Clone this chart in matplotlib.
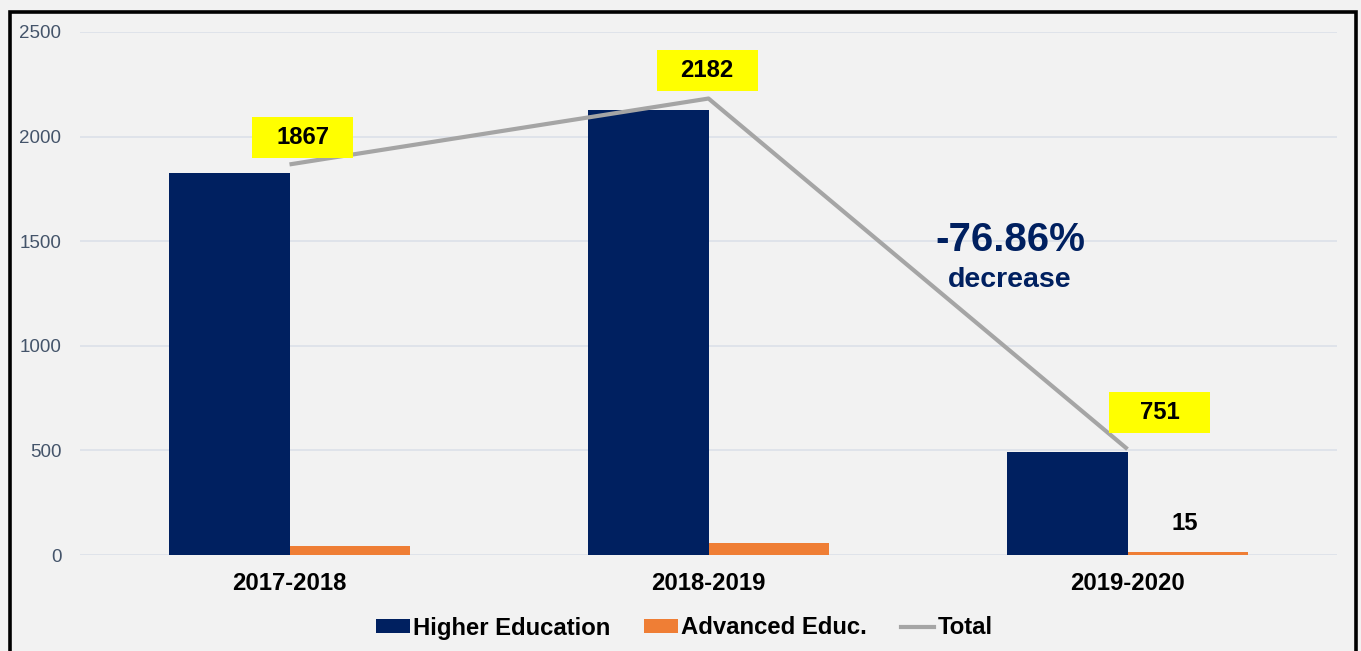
import matplotlib
matplotlib.use("Agg")
import matplotlib.pyplot as plt
from matplotlib.patches import Rectangle, Patch
from matplotlib.lines import Line2D
from matplotlib.transforms import ScaledTranslation

# ---- data ----
categories = ["2017-2018", "2018-2019", "2019-2020"]
higher_education = [1824, 2125, 491]
advanced_educ = [43, 57, 15]
total = [1867, 2182, 506]
total_labels = ["1867", "2182", "751"]
advanced_labels = ["", "", "15"]
change_text = "-76.86%"
change_sub = "decrease"
yticks = [0, 500, 1000, 1500, 2000, 2500]

# ---- style ----
NAVY = "#002060"
ORANGE = "#EF7E35"
GRAY = "#A5A5A5"
BG = "#F2F2F2"
TICKC = "#44546A"
FONT = "Liberation Sans"
DPI = 100
FS = 17.2

plt.rcParams["font.family"] = [FONT, "DejaVu Sans"]

fig = plt.figure(figsize=(13.61, 6.51), dpi=DPI, facecolor=BG)
ax = fig.add_axes([80 / 1361, 1 - 555 / 651, (1337 - 80) / 1361, (555 - 32) / 651])
ax.set_facecolor(BG)

x = list(range(len(categories)))
bw = 0.287
ax.bar([i - bw / 2 for i in x], higher_education, width=bw, color=NAVY, zorder=2)
ax.bar([i + bw / 2 for i in x], advanced_educ, width=bw, color=ORANGE, zorder=2)
ax.plot(x, total, color=GRAY, lw=3, zorder=3, solid_capstyle="butt")

ax.set_xlim(-0.5, len(categories) - 0.5)
ax.set_ylim(0, 2500)
ax.set_yticks(yticks)
ax.set_yticklabels([str(v) for v in yticks], fontsize=13.5, color=TICKC)
ax.set_xticks(x)
ax.set_xticklabels(categories, fontsize=FS, fontweight="bold", color="black")
ax.tick_params(axis="y", length=0, pad=13.5)
ax.tick_params(axis="x", length=0, pad=12.5)
ax.grid(axis="y", color="#DCE1E9", lw=1.2, zorder=0)
for s in ax.spines.values():
    s.set_visible(False)

# yellow labels for total (offsets in display pixels from data point)
box_offsets = [(13, 27), (-1.5, 28), (32, 36.5)]
box_w, box_h = 101, 41
for i, (dx, dy) in enumerate(box_offsets):
    tr = ScaledTranslation(x[i], total[i], ax.transData)
    r = Rectangle((dx - box_w / 2, dy - box_h / 2), box_w, box_h,
                  facecolor="#FFFF00", edgecolor="none", transform=tr,
                  zorder=4, clip_on=False)
    ax.add_artist(r)
    ax.annotate(total_labels[i], xy=(x[i], total[i]),
                xytext=(dx * 72 / DPI, dy * 72 / DPI), textcoords="offset points",
                ha="center", va="center", fontsize=FS, fontweight="bold",
                color="black", zorder=5)

for i, lab in enumerate(advanced_labels):
    if lab:
        ax.annotate(lab, xy=(x[i] + bw / 2, advanced_educ[i]),
                    xytext=(-3 * 72 / DPI, 28 * 72 / DPI), textcoords="offset points",
                    ha="center", va="center", fontsize=FS, fontweight="bold",
                    color="black")

ax.text(1.7196, 1506, change_text, ha="center", va="center", fontsize=29,
        fontweight="bold", color=NAVY)
ax.text(1.7196, 1315, change_sub, ha="center", va="center", fontsize=20.5,
        fontweight="bold", color=NAVY)

handles = [Patch(facecolor=NAVY, edgecolor="none"),
           Patch(facecolor=ORANGE, edgecolor="none"),
           Line2D([0], [0], color=GRAY, lw=3)]
fig.legend(handles, ["Higher Education", "Advanced Educ.", "Total"],
           loc="center", bbox_to_anchor=(0.503, 1 - 628 / 651), ncol=3,
           frameon=False, prop={"family": FONT, "weight": "bold", "size": FS},
           handlelength=1.4, handleheight=0.55, handletextpad=0.15,
           columnspacing=1.4, borderaxespad=0)

# outer frame
frame = Rectangle((9.5 / 1361, -0.1), (1355.5 - 9.5) / 1361, 1.1 - 11.5 / 651,
                  transform=fig.transFigure, fill=False, edgecolor="black",
                  lw=2.6, clip_on=False)
fig.add_artist(frame)

fig.savefig("out.png", dpi=DPI, facecolor=BG)
